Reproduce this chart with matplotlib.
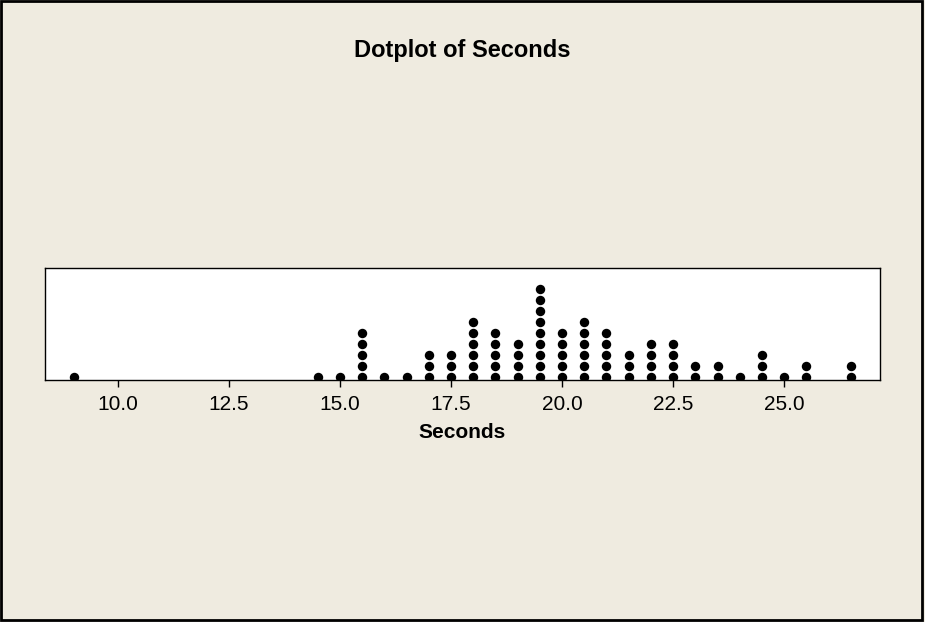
import numpy as np
import matplotlib
matplotlib.use("Agg")
import matplotlib.pyplot as plt
from matplotlib.patches import Rectangle

plt.rcParams['font.family'] = ['Liberation Sans', 'DejaVu Sans']

# dotplot data: value -> number of dots stacked
values = [9.0, 14.5, 15.0, 15.5, 16.0, 16.5, 17.0, 17.5, 18.0, 18.5, 19.0, 19.5,
          20.0, 20.5, 21.0, 21.5, 22.0, 22.5, 23.0, 23.5, 24.0, 24.5, 25.0, 25.5, 26.5]
counts = [1, 1, 1, 5, 1, 1, 3, 3, 6, 5, 4, 9,
          5, 6, 5, 3, 4, 4, 2, 2, 1, 3, 1, 2, 2]
tick_values = [10.0, 12.5, 15.0, 17.5, 20.0, 22.5, 25.0]

bg = '#EFEBE0'
fig = plt.figure(figsize=(9.25, 6.22), dpi=100, facecolor=bg)
ax = fig.add_axes([0.0486, 0.389, 0.9028, 0.180])
ax.set_facecolor('white')

xs, ys = [], []
for v, c in zip(values, counts):
    for k in range(c):
        xs.append(v)
        ys.append(0.3 + k)
ax.plot(xs, ys, 'o', color='black', markersize=6.8, markeredgewidth=0)

ax.set_xlim(8.356, 27.16)
ax.set_ylim(0, 10.2)
ax.set_yticks([])
ax.set_xticks(tick_values)
ax.set_xticklabels([f"{t:.1f}" for t in tick_values], fontsize=15)
ax.tick_params(axis='x', direction='out', length=5, width=1, pad=6)
for s in ax.spines.values():
    s.set_linewidth(1)
ax.set_xlabel('Seconds', fontsize=15, fontweight='bold', labelpad=6)

fig.text(0.5, 0.919, 'Dotplot of Seconds', ha='center', va='center',
         fontsize=17, fontweight='bold')

# outer frame
fig.patches.append(Rectangle((0.001, 0.004), 0.996, 0.994, transform=fig.transFigure,
                             fill=False, edgecolor='black', linewidth=2))

fig.savefig('out.png', dpi=100, facecolor=bg)
